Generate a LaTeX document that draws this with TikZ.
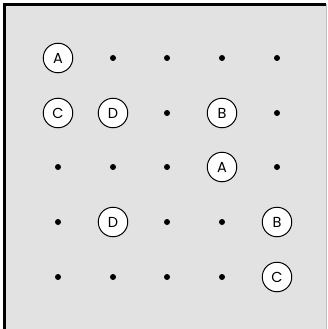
\documentclass[tikz,border=0pt]{standalone}
\usepackage{fontspec}
\setmainfont{Poppins}
\begin{document}
\begin{tikzpicture}[x=1pt,y=-1pt,
  dotnode/.style={circle,fill=black,inner sep=0pt,minimum size=6pt},
  letternode/.style={circle,draw=black,line width=1pt,fill=white,inner sep=0pt,minimum size=29.5pt,font=\fontsize{14.5}{14.5}\selectfont}]
\useasboundingbox (0,0) rectangle (328,329);
\fill[white] (0,0) rectangle (328,329);
\fill[gray!23] (4.5,4.5) rectangle (326,329);
\draw[gray!50,line width=0.6pt] (326,4.5) -- (326,329);
\draw[black,line width=2.4pt] (4.5,329) -- (4.5,4.5) -- (326,4.5);
% row 1
\node[letternode] (r1c1) at (58,58) {A};
\node[dotnode] (r1c2) at (113,58) {};
\node[dotnode] (r1c3) at (167,58) {};
\node[dotnode] (r1c4) at (222,58) {};
\node[dotnode] (r1c5) at (277,58) {};
% row 2
\node[letternode] (r2c1) at (58,113) {C};
\node[letternode] (r2c2) at (113,113) {D};
\node[dotnode] (r2c3) at (167,113) {};
\node[letternode] (r2c4) at (222,113) {B};
\node[dotnode] (r2c5) at (277,113) {};
% row 3
\node[dotnode] (r3c1) at (58,167) {};
\node[dotnode] (r3c2) at (113,167) {};
\node[dotnode] (r3c3) at (167,167) {};
\node[letternode] (r3c4) at (222,167) {A};
\node[dotnode] (r3c5) at (277,167) {};
% row 4
\node[dotnode] (r4c1) at (58,222) {};
\node[letternode] (r4c2) at (113,222) {D};
\node[dotnode] (r4c3) at (167,222) {};
\node[dotnode] (r4c4) at (222,222) {};
\node[letternode] (r4c5) at (277,222) {B};
% row 5
\node[dotnode] (r5c1) at (58,277) {};
\node[dotnode] (r5c2) at (113,277) {};
\node[dotnode] (r5c3) at (167,277) {};
\node[dotnode] (r5c4) at (222,277) {};
\node[letternode] (r5c5) at (277,277) {C};
\end{tikzpicture}
\end{document}
